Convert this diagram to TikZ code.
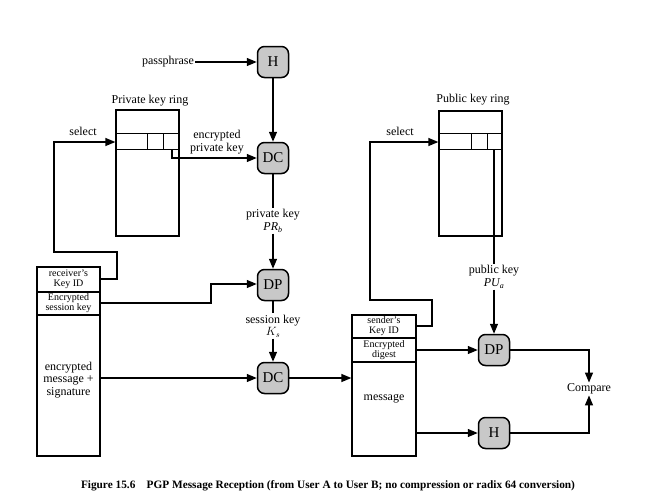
\documentclass[tikz,border=0pt]{standalone}
\usepackage{fontspec}
\setmainfont{Liberation Serif}
\usetikzlibrary{arrows.meta}
\begin{document}
\begin{tikzpicture}[x=1pt,y=-1pt,
  proc/.style={draw,line width=1.5pt,rounded corners=7pt,fill={rgb,255:red,200;green,200;blue,200},minimum width=31pt,minimum height=31pt,inner sep=0pt,font=\fontsize{15}{15}\selectfont},
  lbl/.style={font=\fontsize{12}{12.5}\selectfont,align=center,inner sep=1pt},
  small/.style={font=\fontsize{10}{10}\selectfont,align=center,inner sep=0pt},
  conn/.style={line width=1.3pt,-{Triangle[length=10pt,width=8pt]}},
  plain/.style={line width=1.3pt},
  frame/.style={line width=1.3pt},
  thin/.style={line width=0.7pt}]
\useasboundingbox (0,0) rectangle (646,501);

% process nodes
\node[proc] (H1) at (273,62) {H};
\node[proc] (DC1) at (273,158) {DC};
\node[proc] (DP1) at (273,285) {DP};
\node[proc] (DC2) at (273,378) {DC};
\node[proc] (DP2) at (494,350) {DP};
\node[proc] (H2) at (494,433) {H};

% texts
\node[lbl] (pp) at (168,62) {passphrase};
\node[lbl] (privlbl) at (150,101) {Private key ring};
\node[lbl] (publbl) at (473,100) {Public key ring};
\node[lbl] (sel1) at (83,131) {select};
\node[lbl] (sel2) at (400,131) {select};
\node[lbl] (epk) at (217,142) {encrypted\\private key};
\node[lbl] (prk) at (273,221) {private key\\$\mathit{PR_b}$};
\node[lbl] (sk) at (273,326) {session key\\$K_s$};
\node[lbl] (puk) at (494,277) {public key\\$\mathit{PU_a}$};
\node[lbl] (cmp) at (589,389) {Compare};

% private key ring
\node[draw,frame,minimum width=63pt,minimum height=126pt,inner sep=0pt] (privring) at (147.5,173) {};
\draw[thin] (116,133) -- (179,133) (116,149) -- (179,149) (147,133) -- (147,149) (163,133) -- (163,149);
% public key ring
\node[draw,frame,minimum width=63pt,minimum height=125pt,inner sep=0pt] (pubring) at (470.5,173.5) {};
\draw[thin] (439,133) -- (502,133) (439,149) -- (502,149) (471,133) -- (471,149) (487,133) -- (487,149);

% left message block
\node[draw,frame,minimum width=63pt,minimum height=189pt,inner sep=0pt] (lblock) at (68.5,361.5) {};
\draw[frame] (37,292) -- (100,292) (37,315) -- (100,315);
\node[small] (rkid) at (68.5,279.5) {receiver's\\Key ID};
\node[small] (esk) at (68.5,303.5) {Encrypted\\session key};
\node[lbl] (emsg) at (68.5,380) {encrypted\\message +\\signature};

% right message block
\node[draw,frame,minimum width=64pt,minimum height=141pt,inner sep=0pt] (rblock) at (384,385.5) {};
\draw[frame] (352,338) -- (416,338) (352,362) -- (416,362);
\node[small] (skid) at (384,326.5) {sender's\\Key ID};
\node[small] (edg) at (384,350) {Encrypted\\digest};
\node[lbl] (msg) at (384,399) {message};

% coordinates
\coordinate (c1) at (172,149);
\coordinate (c2) at (494,149);

% connectors
\draw[conn] (pp.east) -- (H1.west);
\draw[conn] (H1.south) -- (DC1.north);
\draw[conn] (c1) -- (172,158) -- (DC1.west);
\draw[plain] (DC1.south) -- (prk.north);
\draw[conn] (prk.south) -- (DP1.north);
\draw[plain] (DP1.south) -- (sk.north);
\draw[conn] (sk.south) -- (DC2.north);
\draw[conn] (100,279) -- (117,279) -- (117,252) -- (54,252) -- (54,142) -- (privring.west |- 0,142);
\draw[conn] (100,303) -- (211,303) -- (211,284) -- (DP1.west |- 0,284);
\draw[conn] (100,378) -- (DC2.west);
\draw[conn] (DC2.east) -- (rblock.west |- 0,378);
\draw[conn] (416,326) -- (432,326) -- (432,300) -- (370,300) -- (370,142) -- (pubring.west |- 0,142);
\draw[plain] (c2) -- (puk.north);
\draw[conn] (puk.south) -- (DP2.north);
\draw[conn] (416,350) -- (DP2.west);
\draw[conn] (416,433) -- (H2.west);
\draw[conn] (DP2.east) -- (589,350) -- (cmp.north);
\draw[conn] (H2.east) -- (589,433) -- (cmp.south);

% caption
\node[font=\bfseries\fontsize{11.3}{13}\selectfont,inner sep=0pt] (cap) at (328,486) {Figure 15.6\quad PGP Message Reception (from User A to User B; no compression or radix 64 conversion)};
\end{tikzpicture}
\end{document}
